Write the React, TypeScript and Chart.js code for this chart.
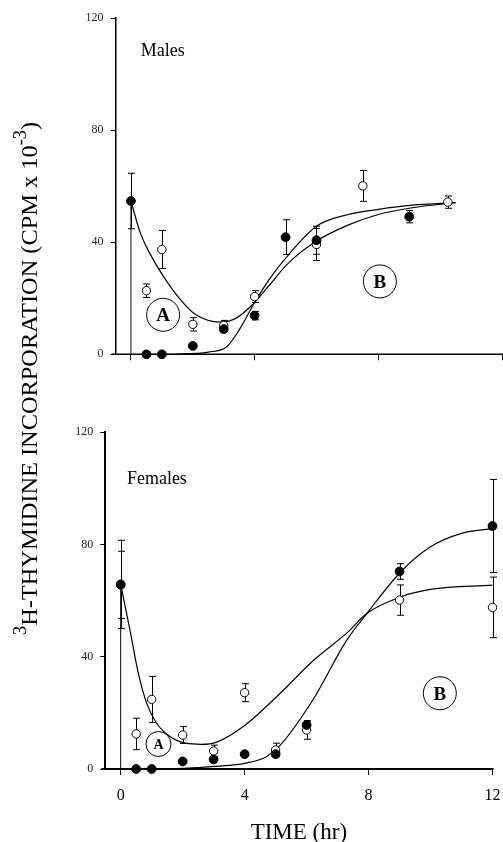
import React, { useEffect, useRef } from "react";
import { Chart, registerables } from "chart.js";

Chart.register(...registerables);

const SERIF = '"Liberation Serif", "Times New Roman", Times, serif';

// ---------- axis ticks ----------
const xTicks = [0, 4, 8, 12];
const yTicks = [0, 40, 80, 120];

// ---------- Males ----------
const maleFilledT = [0, 0.5, 1, 2, 3, 4, 5, 6, 9];
const maleFilledV = [54.7, 0, 0, 3.0, 9.0, 13.8, 41.8, 40.7, 49.1];
const maleFilledErr = [9.9, 0, 0, 0, 0, 1.5, 6.2, 5.0, 2.2];

const maleOpenT = [0.5, 1, 2, 3, 4, 6, 7.5, 10.25];
const maleOpenV = [22.7, 37.4, 10.7, 10.3, 20.6, 39.2, 60.1, 54.3];
const maleOpenErr = [2.4, 6.8, 2.4, 1.8, 2.1, 5.7, 5.5, 2.2];

const maleCurveAT = [0, 0.3, 0.6, 1.05, 1.6, 2.1, 2.9, 3.4, 4.0, 4.5, 5.1, 6.0, 7.0, 8.0, 9.1, 10.5];
const maleCurveAV = [54.7, 43.4, 36.2, 27.8, 19.5, 14.1, 11.5, 12.9, 18.5, 25.0, 32.6, 40.4, 46.0, 49.9, 52.3, 54.1];
const maleCurveBT = [0.5, 1.5, 2.5, 3.1, 3.5, 4.0, 4.5, 5.1, 6.0, 7.0, 8.0, 9.1, 10.5];
const maleCurveBV = [0, 0.1, 0.8, 2.7, 8.7, 18.5, 27.2, 35.6, 45.7, 49.8, 51.7, 53.2, 54.1];

// ---------- Females ----------
const femaleFilledT = [0, 0.5, 1, 2, 3, 4, 5, 6, 9, 12];
const femaleFilledV = [65.8, 0, 0, 2.7, 3.4, 5.3, 5.3, 15.7, 70.4, 86.6];
const femaleFilledErr = [15.7, 0, 0, 0, 0, 0, 0, 1.5, 2.8, 16.6];

const femaleOpenT = [0, 0.5, 1, 2, 3, 4, 5, 6, 9, 12];
const femaleOpenV = [65.6, 12.5, 24.8, 12.1, 6.4, 27.2, 6.8, 13.9, 60.2, 57.6];
const femaleOpenErr = [12, 5.6, 8.2, 3.0, 2.1, 3.2, 2.4, 3.3, 5.4, 10.8];

const femaleCurveAT = [0, 0.3, 0.57, 0.84, 1.16, 1.6, 2.1, 2.6, 3.1, 4.0, 5.15, 6.2, 7.3, 7.95, 9.05, 10.0, 12.0];
const femaleCurveAV = [65.8, 49.5, 34.1, 23.4, 16.3, 11.5, 9.2, 8.8, 9.6, 15.5, 27.0, 38.5, 48.5, 55.5, 61.4, 64.0, 65.5];
const femaleCurveBT = [0.5, 2.0, 2.6, 3.5, 4.0, 4.7, 5.15, 6.2, 7.3, 7.95, 9.05, 10.0, 11.0, 12.0];
const femaleCurveBV = [0, 0.2, 0.6, 1.3, 2.0, 4.4, 8.5, 24.6, 46.0, 55.5, 70.4, 79.2, 84.0, 85.7];

const pts = (t: number[], v: number[]) => t.map((x, i) => ({ x, y: v[i] }));

type Ann = {
  text: string;
  t: number;
  v: number;
  size: number;
  bold?: boolean;
  r?: number;
};

type Panel = {
  filledT: number[];
  filledV: number[];
  filledErr: number[];
  openT: number[];
  openV: number[];
  openErr: number[];
  aT: number[];
  aV: number[];
  bT: number[];
  bV: number[];
  area: { left: number; right: number; top: number; bottom: number };
  xLabels: boolean;
  axisWidth: number;
  anns: Ann[];
  titles: boolean;
};

const errorBarPlugin = {
  id: "errorBars",
  beforeDatasetsDraw(chart: any) {
    const { ctx } = chart;
    const xs = chart.scales.x;
    const ys = chart.scales.y;
    ctx.save();
    ctx.strokeStyle = "#000";
    ctx.lineWidth = 1;
    chart.data.datasets.forEach((ds: any) => {
      if (!ds.err) return;
      ds.data.forEach((p: any, i: number) => {
        const e = ds.err[i];
        if (!e) return;
        const px = Math.round(xs.getPixelForValue(p.x)) + 0.5;
        const hi = ys.getPixelForValue(p.y + e);
        const lo = ys.getPixelForValue(Math.max(0, p.y - e));
        ctx.beginPath();
        ctx.moveTo(px, hi);
        ctx.lineTo(px, lo);
        ctx.moveTo(px - 3.5, hi);
        ctx.lineTo(px + 3.5, hi);
        ctx.moveTo(px - 3.5, lo);
        ctx.lineTo(px + 3.5, lo);
        ctx.stroke();
      });
    });
    ctx.restore();
  },
};

function buildConfig(p: Panel): any {
  const W = 503;
  const H = 842;
  const annPlugin = {
    id: "annots",
    beforeDatasetsDraw(chart: any) {
      // x axis line, drawn from the chart area edges
      const { ctx } = chart;
      const ca = chart.chartArea;
      ctx.save();
      ctx.strokeStyle = "#000";
      ctx.lineWidth = p.axisWidth;
      ctx.beginPath();
      ctx.moveTo(ca.left - 4, ca.bottom);
      ctx.lineTo(Math.min(W, ca.right + 1), ca.bottom);
      ctx.stroke();
      ctx.restore();
    },
    afterDatasetsDraw(chart: any) {
      const { ctx } = chart;
      const xs = chart.scales.x;
      const ys = chart.scales.y;
      ctx.save();
      ctx.fillStyle = "#000";
      ctx.strokeStyle = "#000";
      p.anns.forEach((a) => {
        const px = xs.getPixelForValue(a.t);
        const py = ys.getPixelForValue(a.v);
        ctx.font = `${a.bold ? "bold " : ""}${a.size}px ${SERIF}`;
        if (a.r) {
          ctx.lineWidth = 1;
          ctx.beginPath();
          ctx.arc(px, py, a.r, 0, Math.PI * 2);
          ctx.stroke();
          ctx.textAlign = "center";
          ctx.textBaseline = "alphabetic";
          ctx.fillText(a.text, px, py + a.size * 0.33);
        } else {
          ctx.textAlign = "left";
          ctx.textBaseline = "alphabetic";
          ctx.fillText(a.text, px, py);
        }
      });
      ctx.restore();
    },
    afterDraw(chart: any) {
      if (!p.titles) return;
      const { ctx } = chart;
      const ca = chart.chartArea;
      ctx.save();
      ctx.fillStyle = "#000";
      // x axis title
      ctx.font = `23px ${SERIF}`;
      ctx.textAlign = "center";
      ctx.textBaseline = "alphabetic";
      ctx.fillText("TIME (hr)", (ca.left + ca.right) / 2, 839);
      // y axis title (rotated, with superscripts)
      const big = `24px ${SERIF}`;
      const small = `18px ${SERIF}`;
      const segs = [
        { t: "3", sup: true },
        { t: "H-THYMIDINE INCORPORATION (CPM x 10", sup: false },
        { t: "-3", sup: true },
        { t: ")", sup: false },
      ];
      let total = 0;
      const widths = segs.map((s) => {
        ctx.font = s.sup ? small : big;
        const w = ctx.measureText(s.t).width;
        total += w;
        return w;
      });
      const startY = 635;
      const endY = 122;
      const k = (startY - endY) / total;
      ctx.translate(37, startY);
      ctx.rotate(-Math.PI / 2);
      ctx.scale(k, 1);
      ctx.textAlign = "left";
      let cx = 0;
      segs.forEach((s, i) => {
        ctx.font = s.sup ? small : big;
        ctx.fillText(s.t, cx, s.sup ? -11 : 0);
        cx += widths[i];
      });
      ctx.restore();
    },
  };

  const lineDs = (data: any[]) => ({
    type: "line",
    data,
    borderColor: "#000",
    borderWidth: 1.2,
    pointRadius: 0,
    fill: false,
    cubicInterpolationMode: "monotone",
    clip: false,
    order: 3,
  });

  return {
    type: "line",
    data: {
      datasets: [
        {
          ...lineDs([
            { x: 0, y: 0 },
            { x: 0, y: p.filledV[0] },
          ]),
          borderWidth: 1,
          cubicInterpolationMode: "default",
          tension: 0,
        },
        lineDs(pts(p.aT, p.aV)),
        lineDs(pts(p.bT, p.bV)),
        {
          data: pts(p.openT, p.openV),
          err: p.openErr,
          showLine: false,
          pointRadius: 4.2,
          pointBorderWidth: 1,
          pointBackgroundColor: "#fff",
          pointBorderColor: "#000",
          clip: false,
          order: 2,
        },
        {
          data: pts(p.filledT, p.filledV),
          err: p.filledErr,
          showLine: false,
          pointRadius: 4.4,
          pointBorderWidth: 1,
          pointBackgroundColor: "#000",
          pointBorderColor: "#000",
          clip: false,
          order: 1,
        },
      ],
    },
    options: {
      responsive: false,
      animation: false,
      events: [],
      layout: {
        autoPadding: false,
        padding: {
          left: 0,
          right: W - p.area.right,
          top: p.area.top,
          bottom: 0,
        },
      },
      plugins: {
        legend: { display: false },
        tooltip: { enabled: false },
        title: { display: false },
      },
      scales: {
        x: {
          type: "linear",
          min: -0.5,
          max: 12,
          afterBuildTicks: (s: any) => {
            s.ticks = xTicks.map((v) => ({ value: v }));
          },
          afterFit: (s: any) => {
            s.height = H - p.area.bottom;
            s.paddingLeft = 0;
            s.paddingRight = 0;
          },
          grid: {
            drawOnChartArea: false,
            drawTicks: true,
            tickLength: 6,
            color: "#000",
            lineWidth: 1,
          },
          border: { display: false },
          ticks: {
            display: p.xLabels,
            color: "#000",
            padding: 11,
            font: { family: SERIF, size: 16 },
            maxRotation: 0,
          },
        },
        y: {
          type: "linear",
          min: 0,
          max: 120,
          afterBuildTicks: (s: any) => {
            s.ticks = yTicks.map((v) => ({ value: v }));
          },
          afterFit: (s: any) => {
            s.width = p.area.left;
            s.paddingTop = 0;
            s.paddingBottom = 0;
          },
          grid: {
            drawOnChartArea: false,
            drawTicks: true,
            tickLength: 5,
            color: "#000",
            lineWidth: 1,
          },
          border: { display: true, color: "#000", width: p.axisWidth },
          ticks: {
            color: "#222",
            padding: 7,
            font: { family: SERIF, size: 12 },
          },
        },
      },
    },
    plugins: [errorBarPlugin, annPlugin],
  };
}

const malePanel: Panel = {
  filledT: maleFilledT,
  filledV: maleFilledV,
  filledErr: maleFilledErr,
  openT: maleOpenT,
  openV: maleOpenV,
  openErr: maleOpenErr,
  aT: maleCurveAT,
  aV: maleCurveAV,
  bT: maleCurveBT,
  bV: maleCurveBV,
  area: { left: 115.5, right: 502, top: 18, bottom: 354.3 },
  xLabels: false,
  axisWidth: 1.5,
  anns: [
    { text: "Males", t: 0.32, v: 106.6, size: 18 },
    { text: "A", t: 1.04, v: 14.1, size: 19, bold: true, r: 16.5 },
    { text: "B", t: 8.05, v: 26.0, size: 19, bold: true, r: 16.5 },
  ],
  titles: false,
};

const femalePanel: Panel = {
  filledT: femaleFilledT,
  filledV: femaleFilledV,
  filledErr: femaleFilledErr,
  openT: femaleOpenT,
  openV: femaleOpenV,
  openErr: femaleOpenErr,
  aT: femaleCurveAT,
  aV: femaleCurveAV,
  bT: femaleCurveBT,
  bV: femaleCurveBV,
  area: { left: 105.2, right: 492.5, top: 432.3, bottom: 769 },
  xLabels: true,
  axisWidth: 2,
  anns: [
    { text: "Females", t: 0.2, v: 101.5, size: 18 },
    { text: "A", t: 1.22, v: 8.9, size: 14, bold: true, r: 12.5 },
    { text: "B", t: 10.3, v: 27.0, size: 19, bold: true, r: 16.5 },
  ],
  titles: true,
};

export default function App() {
  const topRef = useRef<HTMLCanvasElement>(null);
  const botRef = useRef<HTMLCanvasElement>(null);

  useEffect(() => {
    const c1 = new Chart(topRef.current as HTMLCanvasElement, buildConfig(malePanel));
    const c2 = new Chart(botRef.current as HTMLCanvasElement, buildConfig(femalePanel));
    return () => {
      c1.destroy();
      c2.destroy();
    };
  }, []);

  const cs: React.CSSProperties = {
    position: "absolute",
    left: 0,
    top: 0,
    width: 503,
    height: 842,
  };

  return (
    <div style={{ position: "absolute", left: 0, top: 0, width: 503, height: 842, background: "#fff" }}>
      <canvas ref={botRef} width={503} height={842} style={cs} />
      <canvas ref={topRef} width={503} height={842} style={cs} />
    </div>
  );
}
